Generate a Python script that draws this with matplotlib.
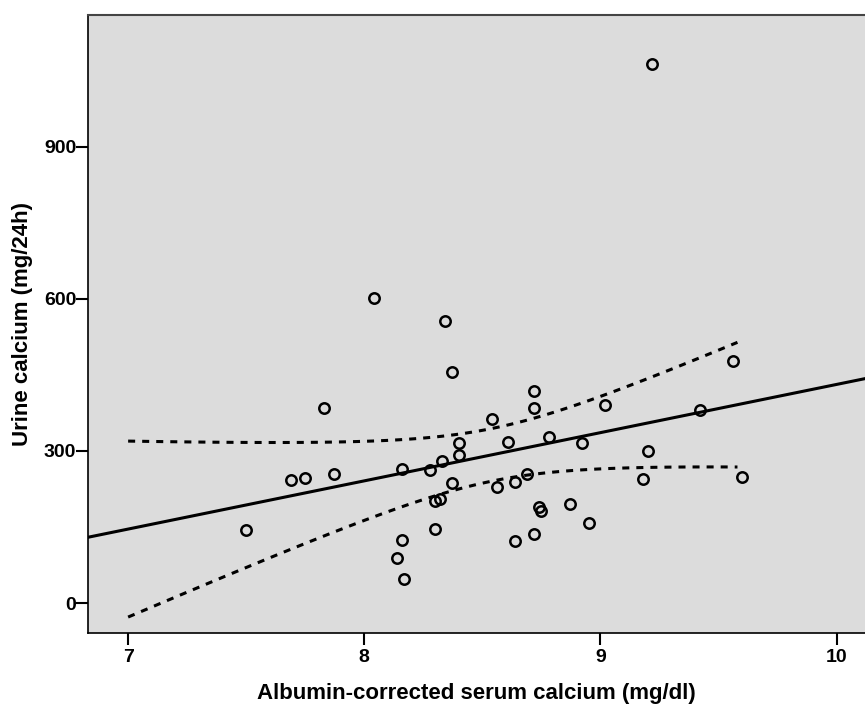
import numpy as np
import matplotlib
matplotlib.use('Agg')
import matplotlib.pyplot as plt

# serum calcium (mg/dl) and urine calcium (mg/24h)
serum_ca = [9.22, 8.04, 8.34, 8.37, 7.83, 8.72, 8.72, 9.02, 9.56, 9.42,
            8.54, 8.61, 8.78, 8.92, 9.20, 9.18, 9.60, 8.69, 8.64, 8.56,
            8.74, 8.75, 8.87, 8.95, 8.72, 8.64, 8.40, 8.40, 8.33, 8.28,
            8.16, 7.87, 7.75, 7.69, 8.37, 8.32, 8.30, 7.50, 8.30, 8.16,
            8.14, 8.17]
urine_ca = [1064, 602, 557, 455, 385, 418, 385, 391, 478, 381,
            363, 318, 327, 315, 300, 245, 249, 255, 239, 229,
            189, 182, 195, 158, 136, 122, 316, 292, 280, 262,
            264, 255, 247, 243, 237, 205, 201, 144, 146, 124,
            89, 47]
x_ticks = [7, 8, 9, 10]
y_ticks = [0, 300, 600, 900]

x = np.array(serum_ca)
y = np.array(urine_ca)

# linear fit + 95% CI of the mean
n = len(x)
b, a = np.polyfit(x, y, 1)
resid = y - (a + b * x)
s = np.sqrt(np.sum(resid ** 2) / (n - 2))
sxx = np.sum((x - x.mean()) ** 2)
t = 2.021

plt.rcParams['font.family'] = ['Liberation Sans', 'DejaVu Sans']
plt.rcParams['font.weight'] = 'bold'

fig = plt.figure(figsize=(8.65, 7.04), dpi=100)
ax = fig.add_axes([0.1017, 0.1009, 0.8983, 0.8778])
ax.set_facecolor('#dcdcdc')

xl = (6.83, 10.12)
ax.set_xlim(*xl)
ax.set_ylim(-59, 1160)

xf = np.linspace(xl[0], xl[1], 50)
ax.plot(xf, a + b * xf, color='black', lw=2.2)

xc = np.linspace(7.0, 9.58, 100)
yc = a + b * xc
hw = t * s * np.sqrt(1 / n + (xc - x.mean()) ** 2 / sxx)
ax.plot(xc, yc + hw, color='black', lw=2.2, ls=(0, (2.3, 2.3)))
ax.plot(xc, yc - hw, color='black', lw=2.2, ls=(0, (2.3, 2.3)))

ax.plot(x, y, 'o', mfc='none', mec='black', mew=1.8, ms=7.5)

ax.set_xticks(x_ticks)
ax.set_yticks(y_ticks)
ax.tick_params(axis='both', labelsize=14, width=1.5, length=8.5, color='black')
ax.tick_params(axis='x', pad=3)
ax.tick_params(axis='y', pad=0)

ax.spines['right'].set_visible(False)
ax.spines['top'].set_color('#444444')
ax.spines['top'].set_linewidth(1.5)
ax.spines['left'].set_linewidth(1.2)
ax.spines['bottom'].set_linewidth(1.2)

ax.set_xlabel('Albumin-corrected serum calcium (mg/dl)', fontsize=16, fontweight='bold', labelpad=12)
ax.set_ylabel('Urine calcium (mg/24h)', fontsize=16, fontweight='bold', labelpad=8)

fig.savefig('out.png', dpi=100)
